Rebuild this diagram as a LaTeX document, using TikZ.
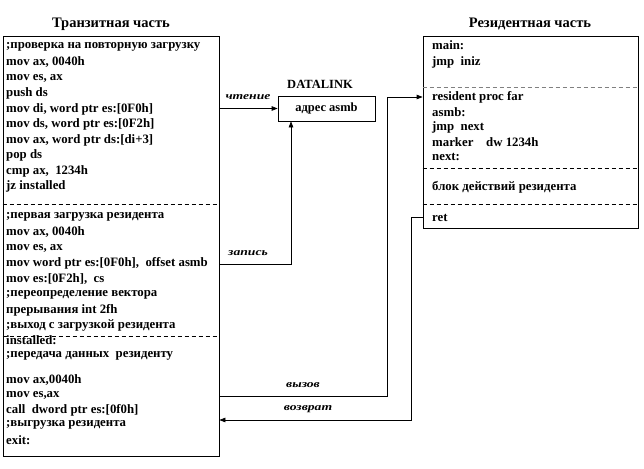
\documentclass[tikz,border=0pt]{standalone}
\usepackage{fontspec}
\setmainfont{Liberation Serif}
\newfontfamily\lblfont[FakeStretch=1.3]{Liberation Serif}
\usetikzlibrary{arrows.meta}
\begin{document}
\begin{tikzpicture}[x=1pt,y=-1pt,
  box/.style={draw, line width=0.7pt, inner sep=0pt, rectangle},
  code/.style={anchor=west, inner sep=0pt, font=\fontsize{12.8}{14}\selectfont\bfseries},
  ttl/.style={inner sep=0pt, font=\fontsize{14.5}{16}\selectfont\bfseries},
  lbl/.style={inner sep=0pt, font=\lblfont\fontsize{10.5}{12}\selectfont\bfseries\itshape},
  div/.style={dash pattern=on 4pt off 3pt, line width=0.6pt},
  arr/.style={-{Triangle[length=6pt,width=4.5pt]}, line width=0.7pt}]
\useasboundingbox (0,0) rectangle (644,468);

% boxes
\node[box, minimum width=216pt, minimum height=420pt] (trans) at (111,246) {};
\node[box, minimum width=215pt, minimum height=192pt] (res) at (530.5,132) {};
\node[box, minimum width=97pt, minimum height=25pt, font=\fontsize{12.5}{14}\selectfont\bfseries] (dl) at (326.5,108.5) {адрес asmb};

% titles
\node[ttl] (ttrans) at (111,24) {Транзитная часть};
\node[ttl] (tres) at (530,24) {Резидентная часть};
\node[ttl, font=\fontsize{12.5}{14}\selectfont\bfseries] (tdl) at (320,84) {DATALINK};

% dividers
\coordinate (d1) at (0,204);
\coordinate (d2) at (0,336);
\coordinate (d3) at (0,87);
\coordinate (d4) at (0,168);
\draw[div] (trans.west |- d1) -- (trans.east |- d1);
\draw[div] (trans.west |- d2) -- (trans.east |- d2);
\draw[div, gray] (res.west |- d3) -- (res.east |- d3);
\draw[div] (res.west |- d4) -- (res.east |- d4);
\draw[div] (res.west |- d1) -- (res.east |- d1);

% transit code
\node[code] (a1) at (6,47) {;проверка на повторную загрузку};
\node[code] (a2) at (6,62.5) {mov ax, 0040h};
\node[code] (a3) at (6,78) {mov es, ax};
\node[code] (a4) at (6,93.5) {push ds};
\node[code] (a5) at (6,109) {mov di, word ptr es:[0F0h]};
\node[code] (a6) at (6,124.5) {mov ds, word ptr es:[0F2h]};
\node[code] (a7) at (6,140) {mov ax, word ptr ds:[di+3]};
\node[code] (a8) at (6,155.5) {pop ds};
\node[code] (a9) at (6,171) {cmp ax,\ \ 1234h};
\node[code] (a10) at (6,186.5) {jz installed};

\node[code] (b1) at (6,217) {;первая загрузка резидента};
\node[code] (b2) at (6,232.5) {mov ax, 0040h};
\node[code] (b3) at (6,248) {mov es, ax};
\node[code] (b4) at (6,263.5) {mov word ptr es:[0F0h],\ \ offset asmb};
\node[code] (b5) at (6,279) {mov es:[0F2h],\ \ cs};
\node[code] (b6) at (6,294.5) {;переопределение вектора};
\node[code] (b7) at (6,310) {прерывания int 2fh};
\node[code] (b8) at (6,325.5) {;выход с загрузкой резидента};

\node[code] (c1) at (6,340.5) {installed:};
\node[code] (c2) at (6,355.5) {;передача данных\ \ резиденту};
\node[code] (c3) at (6,380) {mov ax,0040h};
\node[code] (c4) at (6,395) {mov es,ax};
\node[code] (c5) at (6,410) {call\ \ dword ptr es:[0f0h]};
\node[code] (c6) at (6,425) {;выгрузка резидента};
\node[code] (c7) at (6,440) {exit:};

% resident code
\node[code] (r1) at (432,45) {main:};
\node[code] (r2) at (432,62) {jmp\ \ iniz};
\node[code] (r3) at (432,97) {resident proc far};
\node[code] (r4) at (432,112) {asmb:};
\node[code] (r5) at (432,127) {jmp\ \ next};
\node[code] (r6) at (432,142) {marker\ \ \ \ dw 1234h};
\node[code] (r7) at (432,157) {next:};
\node[code] (r8) at (432,187) {блок действий резидента};
\node[code] (r9) at (432,218) {ret};

% connectors
\draw[arr] (trans.east |- dl.west) -- (dl.west);
\node[lbl] (lread) at (248,97) {чтение};

\coordinate (w1) at (291,264);
\draw[arr] (trans.east |- w1) -- (w1) -- (w1 |- dl.south);
\node[lbl] (lwrite) at (248,253) {запись};

\coordinate (k1) at (387,396);
\coordinate (k2) at (387,97);
\draw[arr] (trans.east |- k1) -- (k1) -- (k2) -- (res.west |- k2);
\node[lbl] (lcall) at (303,385) {вызов};

\coordinate (q1) at (411,217);
\coordinate (q2) at (411,420);
\draw[arr] (res.west |- q1) -- (q1) -- (q2) -- (trans.east |- q2);
\node[lbl] (lret) at (308,409) {возврат};
\end{tikzpicture}
\end{document}
